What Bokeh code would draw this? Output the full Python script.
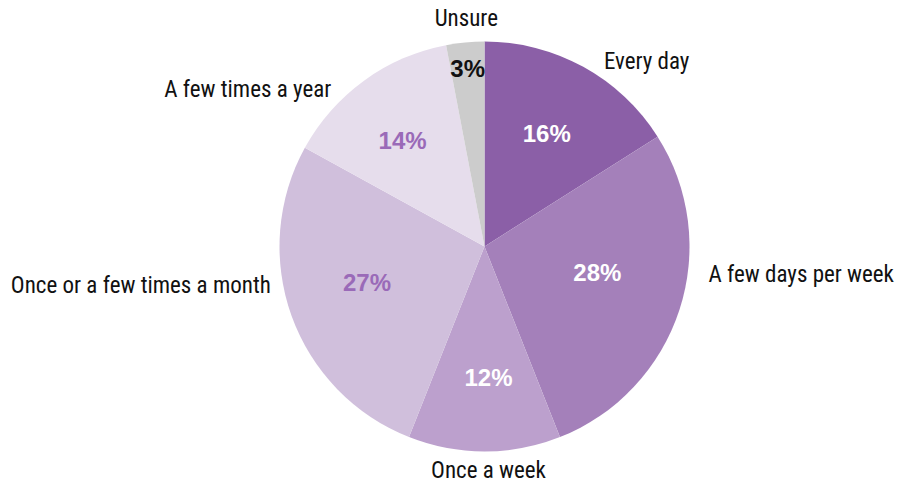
import math
from bokeh.plotting import figure
from bokeh.models import ColumnDataSource, Range1d
from bokeh.core.properties import value
from bokeh.embed import file_html
from bokeh.resources import INLINE

# ---- data ----
categories = ["Every day", "A few days per week", "Once a week",
              "Once or a few times a month", "A few times a year", "Unsure"]
shares = [16, 28, 12, 27, 14, 3]
pct_labels = ["16%", "28%", "12%", "27%", "14%", "3%"]

# ---- styling ----
colors = ["#8B5FA7", "#A480BA", "#BCA0CD", "#D0BFDC", "#E6DDEC", "#CCCCCC"]
pct_colors = ["#FFFFFF", "#FFFFFF", "#FFFFFF", "#9A6AB8", "#9A6AB8", "#111111"]
# small pixel nudges for the labels (layout only)
nudge_x = [11, 10, 4, -2, -21, 3]
nudge_y = [12, -42, -1, -37, 25, -4]
inner_dx = [0, -10, 4, 4, -6, 0]
inner_dy = [0, -14, 2, -8, -2, 0]

W, H = 899, 488
CX, CY, R = 484, H - 246, 205

total = sum(shares)
starts, ends, mids = [], [], []
cum = 0.0
for s in shares:
    a0 = cum / total
    cum += s
    a1 = cum / total
    # clockwise from top -> math angles
    starts.append(math.pi / 2 - 2 * math.pi * a1)
    ends.append(math.pi / 2 - 2 * math.pi * a0)
    mids.append(2 * math.pi * (a0 + a1) / 2)  # clockwise from top

p = figure(width=W, height=H, output_backend="svg", toolbar_location=None,
           x_range=Range1d(0, W), y_range=Range1d(0, H), min_border=0)
p.axis.visible = False
p.grid.visible = False
p.outline_line_color = None
p.background_fill_color = "white"
p.border_fill_color = "white"

wsrc = ColumnDataSource(dict(x=[CX] * len(shares), y=[CY] * len(shares),
                             start=starts, end=ends, color=colors))
p.wedge(x="x", y="y", radius=R, start_angle="start", end_angle="end",
        fill_color="color", line_color=None, source=wsrc)

# inner percentage labels
ix, iy = [], []
for s, m in zip(shares, mids):
    f = 0.87 if s < 5 else 0.63
    ix.append(CX + f * R * math.sin(m))
    iy.append(CY + f * R * math.cos(m))
psrc = ColumnDataSource(dict(x=ix, y=iy, t=pct_labels, c=pct_colors,
                             dx=inner_dx, dy=inner_dy))
p.text(x="x", y="y", text="t", text_color="c", source=psrc,
       x_offset="dx", y_offset="dy",
       text_font=value("Liberation Sans"), text_font_style="bold",
       text_font_size="24px", text_align="center", text_baseline="middle")

# outer category labels
ox, oy, al = [], [], []
d = R + 20
for m in mids:
    sx = math.sin(m)
    ox.append(CX + d * sx)
    oy.append(CY + d * math.cos(m))
    al.append("center" if abs(sx) < 0.2 else ("left" if sx > 0 else "right"))
osrc = ColumnDataSource(dict(x=ox, y=oy, t=categories, a=al,
                             dx=nudge_x, dy=nudge_y))
p.text(x="x", y="y", text="t", text_align="a", x_offset="dx", y_offset="dy",
       source=osrc, text_color="#111111",
       text_font=value("'Roboto Condensed', 'Liberation Sans Narrow', 'DejaVu Sans Condensed', Roboto"),
       text_font_size="23px", text_baseline="middle")

open("out.html", "w").write(file_html(p, INLINE))
